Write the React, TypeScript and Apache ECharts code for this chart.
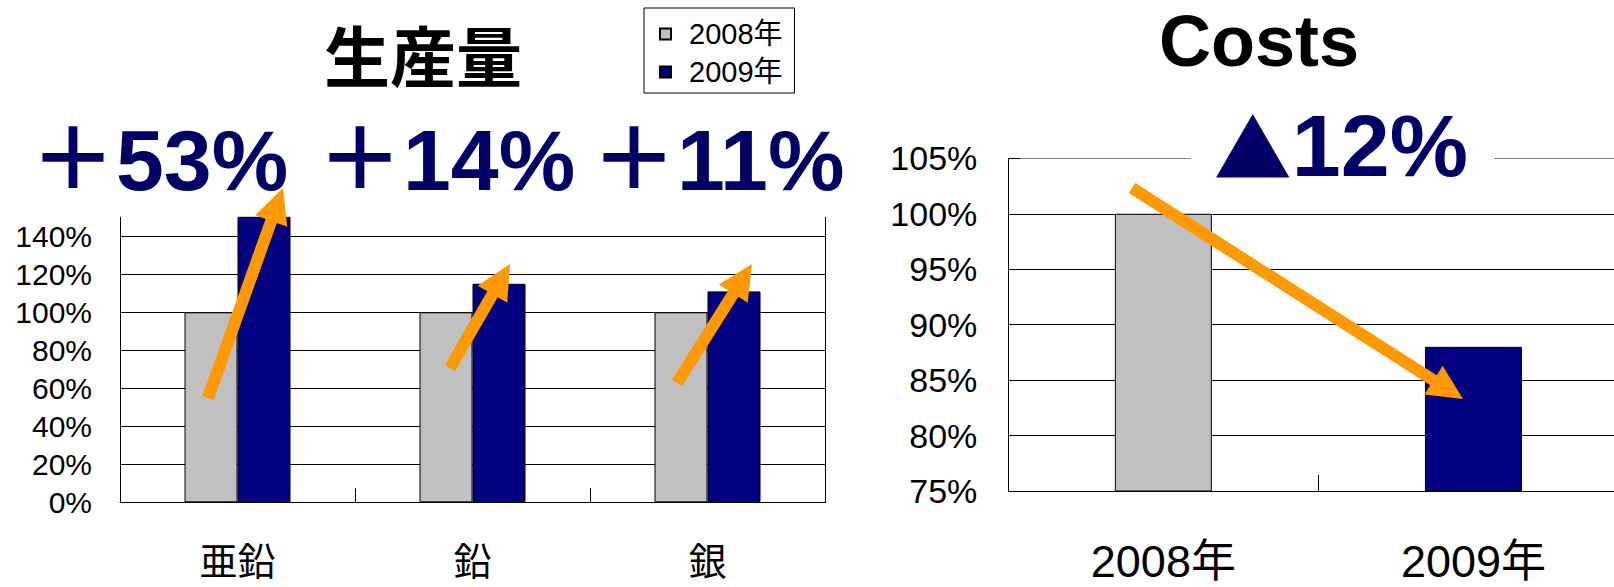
import React, { useEffect, useRef } from 'react';
import * as echarts from 'echarts';

// ---- data ----
const prodCategories = ['亜鉛', '鉛', '銀'];
const prod2008 = [100, 100, 100];
const prod2009 = [153, 115, 111];
const prodGrowthLabels = ['＋53%', '＋14%', '＋11%'];
const seriesNames = ['2008年', '2009年'];
const costCategories = ['2008年', '2009年'];
const costValues = [100, 88];
const costChangeMark = '▲';
const costChangeValue = '12%';

// ---- styles ----
const GRAY = '#C0C0C0';
const NAVY = '#000080';
const LABEL_NAVY = '#000066';
const ORANGE = '#FF9900';
const LATIN = '"Liberation Sans", Arial, "Noto Sans CJK JP", sans-serif';
const CJK = '"Noto Sans CJK JP", "Liberation Sans", sans-serif';

type P = [number, number];
function arrowPoints(t: P, p: P, w = 12, hw = 34, hl = 35): number[][] {
  const dx = p[0] - t[0];
  const dy = p[1] - t[1];
  const L = Math.hypot(dx, dy);
  const ux = dx / L, uy = dy / L;
  const nx = -uy, ny = ux;
  const bx = p[0] - ux * hl, by = p[1] - uy * hl;
  return [
    [t[0] + nx * w / 2, t[1] + ny * w / 2],
    [bx + nx * w / 2, by + ny * w / 2],
    [bx + nx * hw / 2, by + ny * hw / 2],
    [p[0], p[1]],
    [bx - nx * hw / 2, by - ny * hw / 2],
    [bx - nx * w / 2, by - ny * w / 2],
    [t[0] - nx * w / 2, t[1] - ny * w / 2],
  ];
}

// annotation arrows (tail, tip) in page pixels
const arrows: [P, P][] = [
  [[208, 398], [283, 188]],
  [[450, 368], [510, 264]],
  [[677, 383], [752, 264]],
  [[1132, 188], [1463, 399]],
];
const growthLabelX = [30, 317, 591];

function textEl(text: string, x: number, y: number, size: number, family: string, fill: string, align = 'center') {
  return {
    type: 'text',
    x,
    y,
    z: 20,
    style: {
      text,
      fontSize: size,
      fontWeight: 'bold',
      fontFamily: family,
      fill,
      align,
      textAlign: align,
      verticalAlign: 'middle',
      textVerticalAlign: 'middle',
    },
  };
}

export default function App() {
  const ref = useRef<HTMLDivElement>(null);
  useEffect(() => {
    if (!ref.current) return;
    const chart = echarts.init(ref.current, null, { renderer: 'svg' });
    const graphics: any[] = [];
    graphics.push({ type: 'rect', z: 5, shape: { x: 1191, y: 150, width: 303, height: 16 }, style: { fill: '#fff' } });
    arrows.forEach(([t, p]) => {
      graphics.push({ type: 'polygon', z: 10, shape: { points: arrowPoints(t, p) }, style: { fill: ORANGE } });
    });
    graphics.push(textEl('生産量', 423, 53, 66, CJK, '#000'));
    graphics.push(textEl('Costs', 1259, 41, 72, LATIN, '#000'));
    prodGrowthLabels.forEach((s, i) => {
      graphics.push(textEl(s, growthLabelX[i], 160, 86, LATIN, LABEL_NAVY, 'left'));
    });
    graphics.push({
      type: 'text',
      x: 1468,
      y: 145,
      z: 20,
      style: {
        text: '{m|' + costChangeMark + '}{v|' + costChangeValue + '}',
        align: 'right',
        textAlign: 'right',
        verticalAlign: 'middle',
        textVerticalAlign: 'middle',
        fill: LABEL_NAVY,
        rich: {
          m: { fontSize: 78, fontFamily: CJK, fontWeight: 'bold', fill: LABEL_NAVY, color: LABEL_NAVY },
          v: { fontSize: 88, fontFamily: LATIN, fontWeight: 'bold', fill: LABEL_NAVY, color: LABEL_NAVY },
        },
      },
    });

    const option: any = {
      animation: false,
      backgroundColor: '#fff',
      textStyle: { fontFamily: LATIN },
      legend: {
        data: seriesNames,
        orient: 'vertical',
        left: 644,
        top: 8,
        selectedMode: false,
        borderColor: '#000',
        borderWidth: 1,
        padding: [11, 12, 6, 15],
        itemWidth: 11,
        itemHeight: 11,
        itemGap: 8,
        icon: 'rect',
        textStyle: { fontSize: 29, lineHeight: 30, color: '#000', fontFamily: LATIN, padding: [0, 0, 0, 13] },
      },
      grid: [
        { left: 120, right: 789, top: 217.3, bottom: 84.7, outerBoundsMode: 'none', containLabel: false },
        { left: 1008.3, right: -14.5, top: 158.3, bottom: 96, outerBoundsMode: 'none', containLabel: false },
      ],
      xAxis: [
        {
          type: 'category',
          gridIndex: 0,
          data: prodCategories,
          axisLine: { lineStyle: { color: '#000', width: 1 } },
          axisTick: { show: true, inside: true, length: 14, lineStyle: { color: '#000' } },
          axisLabel: { fontSize: 38, lineHeight: 36, fontFamily: CJK, color: '#000', margin: 38 },
          splitLine: { show: false },
        },
        {
          type: 'category',
          gridIndex: 1,
          data: costCategories,
          axisLine: { lineStyle: { color: '#000', width: 1 } },
          axisTick: { show: true, inside: true, length: 16, lineStyle: { color: '#000' } },
          axisLabel: { fontSize: 45, lineHeight: 40, fontFamily: LATIN, color: '#000', margin: 50 },
          splitLine: { show: false },
        },
      ],
      yAxis: [
        {
          type: 'value',
          gridIndex: 0,
          min: 0,
          max: 150,
          interval: 20,
          axisLine: { show: true, lineStyle: { color: '#000' } },
          axisTick: { show: false },
          axisLabel: { formatter: '{value}%', fontSize: 30, fontFamily: LATIN, color: '#000', margin: 28, showMaxLabel: false },
          splitLine: { show: true, showMaxLine: false, lineStyle: { color: '#000', width: 1 } },
        },
        {
          type: 'value',
          gridIndex: 0,
          position: 'right',
          min: 0,
          max: 150,
          interval: 50,
          axisLine: { show: true, lineStyle: { color: '#000' } },
          axisTick: { show: false },
          axisLabel: { show: false },
          splitLine: { show: false },
        },
        {
          type: 'value',
          gridIndex: 1,
          min: 75,
          max: 105,
          interval: 5,
          axisLine: { show: true, lineStyle: { color: '#000' } },
          axisTick: { show: true, inside: true, length: 12, lineStyle: { color: '#000' } },
          axisLabel: { formatter: '{value}%', fontSize: 34, fontFamily: LATIN, color: '#000', margin: 31 },
          splitLine: {
            show: true,
            lineStyle: { color: ['#000', '#000', '#000', '#000', '#000', '#000', '#888'], width: 1 },
          },
        },
      ],
      series: [
        {
          type: 'bar',
          name: seriesNames[0],
          xAxisIndex: 0,
          yAxisIndex: 0,
          data: prod2008,
          barWidth: 53,
          barGap: '0%',
          clip: true,
          itemStyle: { color: GRAY, borderColor: '#000', borderWidth: 1 },
        },
        {
          type: 'bar',
          name: seriesNames[1],
          xAxisIndex: 0,
          yAxisIndex: 0,
          data: prod2009,
          barWidth: 53,
          barGap: '0%',
          clip: true,
          itemStyle: { color: NAVY, borderColor: '#000', borderWidth: 1 },
        },
        {
          type: 'bar',
          name: 'Costs',
          xAxisIndex: 1,
          yAxisIndex: 2,
          data: costValues.map((v, i) => ({ value: v, itemStyle: { color: i === 0 ? GRAY : NAVY } })),
          barWidth: 97,
          clip: true,
          itemStyle: { borderColor: '#000', borderWidth: 1 },
        },
      ],
      graphic: { elements: graphics },
    };
    chart.setOption(option);
    return () => chart.dispose();
  }, []);
  return (
    <div
      ref={ref}
      style={{ position: 'absolute', left: 0, top: 0, width: '1614px', height: '587px' }}
    />
  );
}
